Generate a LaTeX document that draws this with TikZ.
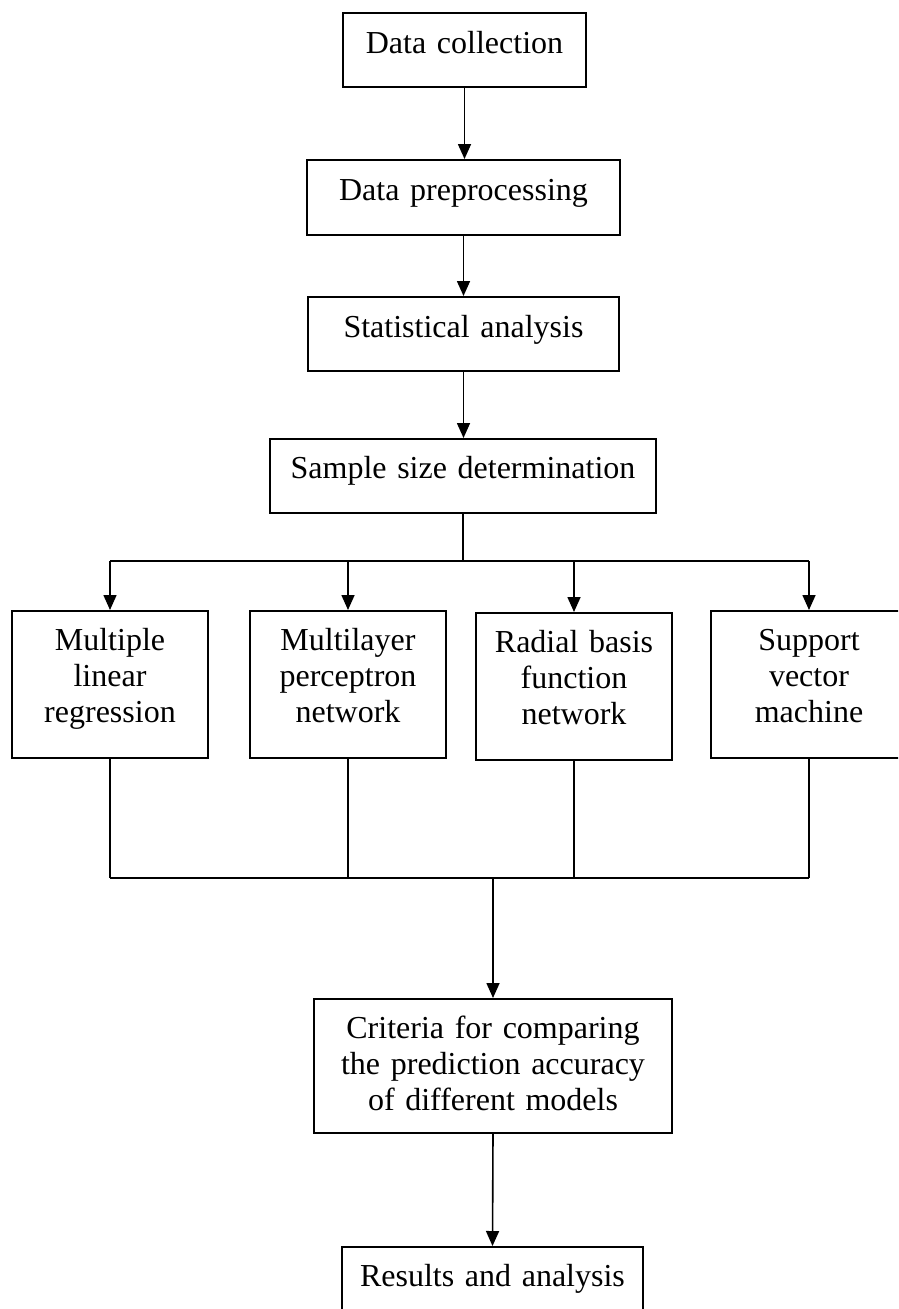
\documentclass[tikz,border=0pt]{standalone}
\usepackage{fontspec}
\setmainfont{Liberation Serif}
\usetikzlibrary{arrows.meta}
\begin{document}
\begin{tikzpicture}[x=1pt,y=-1pt,
  box/.style={draw, line width=1.8pt, inner sep=0pt, align=center, anchor=north,
    font=\fontsize{32}{36}\selectfont},
  conn/.style={line width=1.6pt},
  thinconn/.style={line width=1.2pt},
  arr/.style={line width=1.6pt, -{Triangle[width=13pt,length=15pt]}}]
\useasboundingbox (0,0) rectangle (898,1309);
\clip (0,0) rectangle (898,1309);

% main chain
\node[box, text width=243pt, text height=41pt, text depth=33pt] (c1) at (464.5,12) {Data collection};
\node[box, text width=313pt, text height=41pt, text depth=34pt] (c2) at (463.5,159) {Data preprocessing};
\node[box, text width=311pt, text height=41pt, text depth=33pt] (c3) at (463.5,296) {Statistical analysis};
\node[box, text width=386pt, text height=40pt, text depth=34pt] (c4) at (463,438) {Sample size determination};

% models
\node[box, text width=196pt, text height=40pt, text depth=107pt] (m1) at (110,610) {Multiple\\linear\\regression};
\node[box, text width=196pt, text height=40pt, text depth=107pt] (m2) at (348,610) {Multilayer\\perceptron\\network};
\node[box, text width=196pt, text height=40pt, text depth=107pt] (m3) at (574,612) {Radial basis\\function\\network};
\node[box, text width=196pt, text height=40pt, text depth=107pt] (m4) at (809,610) {Support\\vector\\machine};

% evaluation
\node[box, text width=358pt, text height=40pt, text depth=94pt] (cr) at (493,998) {Criteria for comparing\\the prediction accuracy\\of different models};
\node[box, text width=301pt, text height=40pt, text depth=50pt] (rs) at (492.5,1246) {Results and analysis};

% connectors of the chain
\draw[arr] (c1.south) -- (c1.south |- c2.north);
\draw[arr] (c2.south) -- (c2.south |- c3.north);
\draw[arr] (c3.south) -- (c3.south |- c4.north);

% fan out to the models
\coordinate (split) at (463,561);
\draw[conn] (c4.south) -- (c4.south |- split);
\draw[conn] (m1.north |- split) -- (m4.north |- split);
\foreach \m in {m1,m2,m3,m4}
  \draw[arr] (\m.north |- split) -- (\m.north);

% gather the models
\coordinate (join) at (493,878);
\foreach \m in {m1,m2,m3,m4}
  \draw[thinconn] (\m.south) -- (\m.south |- join);
\draw[thinconn] (m1.south |- join) -- (m4.south |- join);
\draw[conn] (m2.south |- join) -- (m3.south |- join);
\draw[arr] (join) -- (cr.north);
\draw[arr] (cr.south) -- (rs.north);
\end{tikzpicture}
\end{document}
